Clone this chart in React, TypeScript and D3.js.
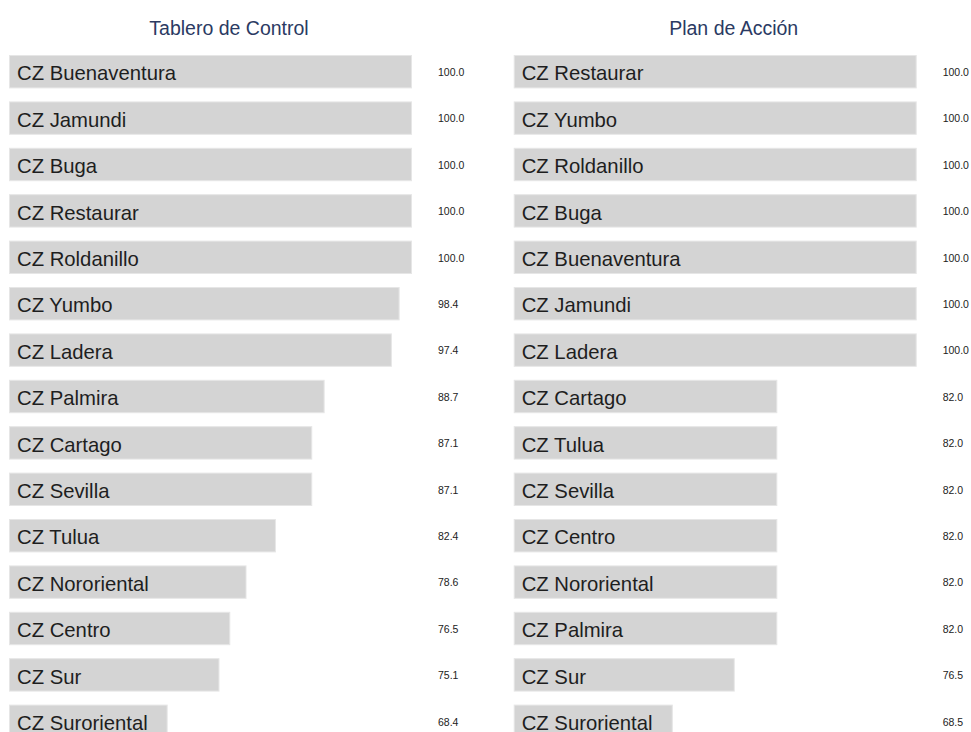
import React from "react";
import * as d3 from "d3";

const leftTitle = "Tablero de Control";
const leftNames = [
  "CZ Buenaventura", "CZ Jamundi", "CZ Buga", "CZ Restaurar", "CZ Roldanillo",
  "CZ Yumbo", "CZ Ladera", "CZ Palmira", "CZ Cartago", "CZ Sevilla",
  "CZ Tulua", "CZ Nororiental", "CZ Centro", "CZ Sur", "CZ Suroriental",
];
const leftValues = [100.0, 100.0, 100.0, 100.0, 100.0, 98.4, 97.4, 88.7, 87.1, 87.1, 82.4, 78.6, 76.5, 75.1, 68.4];

const rightTitle = "Plan de Acción";
const rightNames = [
  "CZ Restaurar", "CZ Yumbo", "CZ Roldanillo", "CZ Buga", "CZ Buenaventura",
  "CZ Jamundi", "CZ Ladera", "CZ Cartago", "CZ Tulua", "CZ Sevilla",
  "CZ Centro", "CZ Nororiental", "CZ Palmira", "CZ Sur", "CZ Suroriental",
];
const rightValues = [100.0, 100.0, 100.0, 100.0, 100.0, 100.0, 100.0, 82.0, 82.0, 82.0, 82.0, 82.0, 82.0, 76.5, 68.5];

const W = 971;
const H = 732;
const FONT = "'Liberation Sans', Arial, Helvetica, sans-serif";

type PanelProps = { x0: number; title: string; names: string[]; values: number[] };

function Panel({ x0, title, names, values }: PanelProps) {
  const minV = d3.min(values) as number;
  const maxV = d3.max(values) as number;
  const x = d3.scaleLinear().domain([minV * 0.7, maxV]).range([x0, x0 + 403]);
  const y = d3
    .scaleBand<number>()
    .domain(d3.range(names.length))
    .range([48.5, 48.5 + 46.4 * names.length])
    .paddingInner(0.28)
    .paddingOuter(0.14);
  const bh = y.bandwidth();
  return (
    <g>
      <text
        x={x0 + 220}
        y={35}
        textAnchor="middle"
        fontFamily={FONT}
        fontSize={19.5}
        fill="#2b3a63"
      >
        {title}
      </text>
      {names.map((n, i) => {
        const yy = y(i) as number;
        return (
          <g key={n + i}>
            <rect
              x={x0 + 0.5}
              y={yy + 0.5}
              width={x(values[i]) - x0 - 1}
              height={bh - 1}
              fill="#d4d4d4"
              stroke="#e6e6e6"
              strokeWidth={1}
            />
            <text
              x={x0 + 8}
              y={yy + bh / 2}
              dy="0.43em"
              fontFamily={FONT}
              fontSize={20.3}
              fill="#1e1e1e"
            >
              {n}
            </text>
            <text
              x={x0 + 429}
              y={yy + bh / 2}
              dy="0.4em"
              fontFamily={FONT}
              fontSize={10.5}
              fill="#222"
            >
              {values[i].toFixed(1)}
            </text>
          </g>
        );
      })}
    </g>
  );
}

export default function App() {
  return (
    <svg
      width={W}
      height={H}
      style={{ position: "absolute", left: 0, top: 0, background: "#fff" }}
    >
      <rect width={W} height={H} fill="#fff" />
      <Panel x0={9} title={leftTitle} names={leftNames} values={leftValues} />
      <Panel x0={513.7} title={rightTitle} names={rightNames} values={rightValues} />
    </svg>
  );
}
